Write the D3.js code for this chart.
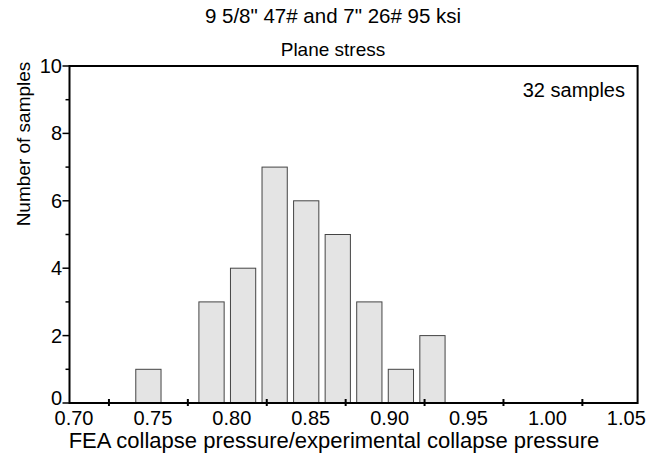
<html>
<head>
  <script src="https://cdn.jsdelivr.net/npm/d3@7"></script>
  <style>
    body { margin:0; background:#fff; }
    text { font-family: Arial, "Liberation Sans", sans-serif; fill:#000; }
  </style>
</head>
<body>
<svg id="chart" width="662" height="467"></svg>
<script>
// histogram bins (centre of each 0.02 bin) and counts
var binCentres = [0.75, 0.77, 0.79, 0.81, 0.83, 0.85, 0.87, 0.89, 0.91, 0.93]
var counts     = [1,    0,    3,    4,    7,    6,    5,    3,    1,    2]
var xLabels    = [0.70, 0.75, 0.80, 0.85, 0.90, 0.95, 1.00, 1.05]
var xTickMarks = [0.725, 0.775, 0.825, 0.875, 0.925, 0.975, 1.025]
var yLabels    = [0, 2, 4, 6, 8, 10]
var yMinor     = [1, 3, 5, 7, 9]

var svg = d3.select("#chart")
var x = d3.scaleLinear().domain([0.70, 1.06]).range([69.5, 637.6])
var y = d3.scaleLinear().domain([0, 10]).range([403, 66])
var barW = x(0.716) - x(0.70)

// titles
svg.append("text").attr("x", 333).attr("y", 23).attr("text-anchor", "middle")
   .style("font-size", "20.5px").text('9 5/8" 47# and 7" 26# 95 ksi')
svg.append("text").attr("x", 333).attr("y", 56).attr("text-anchor", "middle")
   .style("font-size", "19px").text("Plane stress")

// bars
svg.selectAll("rect.bar").data(binCentres.filter(function(d,i){ return counts[i] > 0 }))
  .enter().append("rect")
  .attr("x", function(d) { return x(d) - barW/2 })
  .attr("width", barW)
  .attr("y", function(d) { return y(counts[binCentres.indexOf(d)]) })
  .attr("height", function(d) { return y(0) - y(counts[binCentres.indexOf(d)]) })
  .style("fill", "#e4e4e4")
  .style("stroke", "#444")
  .style("stroke-width", 1)

// frame
svg.append("rect").attr("x", x(0.70)).attr("y", y(10))
   .attr("width", x(1.06) - x(0.70)).attr("height", y(0) - y(10))
   .style("fill", "none").style("stroke", "#000").style("stroke-width", 2)

// x ticks and labels
svg.selectAll("line.xt").data(xTickMarks).enter().append("line")
   .attr("x1", function(d){ return x(d) }).attr("x2", function(d){ return x(d) })
   .attr("y1", y(0) - 4).attr("y2", y(0) + 3)
   .style("stroke", "#000").style("stroke-width", 2)
svg.selectAll("text.xl").data(xLabels).enter().append("text")
   .attr("x", function(d){ return x(d) + 4.5 }).attr("y", 425)
   .attr("text-anchor", "middle").style("font-size", "20px")
   .text(function(d){ return d3.format(".2f")(d) })

// y ticks and labels
svg.selectAll("line.yt").data(yLabels).enter().append("line")
   .attr("x1", x(0.70) - 7).attr("x2", x(0.70))
   .attr("y1", function(d){ return y(d) }).attr("y2", function(d){ return y(d) })
   .style("stroke", "#000").style("stroke-width", 1.5)
svg.selectAll("line.ym").data(yMinor).enter().append("line")
   .attr("x1", x(0.70) - 4).attr("x2", x(0.70))
   .attr("y1", function(d){ return y(d) }).attr("y2", function(d){ return y(d) })
   .style("stroke", "#000").style("stroke-width", 1.5)
svg.selectAll("text.yl").data(yLabels).enter().append("text")
   .attr("x", 62).attr("y", function(d){ return d == 0 ? y(d) + 2 : y(d) + 7 })
   .attr("text-anchor", "end").style("font-size", "20px")
   .text(function(d){ return d })

// axis titles
svg.append("text").attr("x", 334).attr("y", 448).attr("text-anchor", "middle")
   .style("font-size", "22px").text("FEA collapse pressure/experimental collapse pressure")
svg.append("text").attr("transform", "translate(30,144) rotate(-90)")
   .attr("text-anchor", "middle").style("font-size", "19px").text("Number of samples")

// sample count
svg.append("text").attr("x", 625).attr("y", 97).attr("text-anchor", "end")
   .style("font-size", "20px").text("32 samples")
</script>
</body>
</html>
